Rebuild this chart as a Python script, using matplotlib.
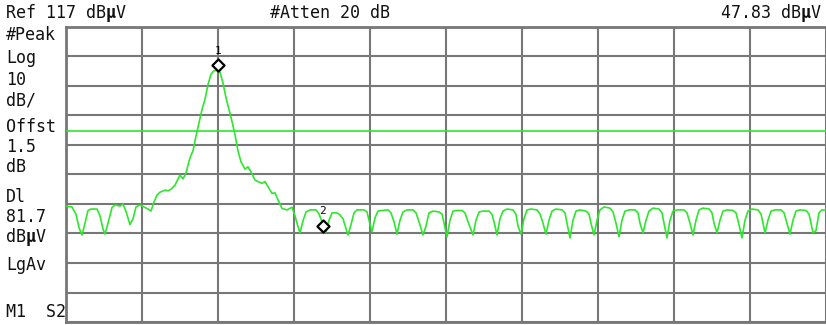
import matplotlib
matplotlib.use("Agg")
from matplotlib import pyplot as plt

# Настройки прибора (из шапки экрана)
ref_level = 117      # dBμV, верх сетки
db_per_div = 10
n_bins = 760         # точки трассы по оси X, сетка через 76
display_line = 81.7  # dBμV

# Трасса: (номер точки, уровень dBμV)
trace_bins = [
    0, 6, 10, 13, 16, 19, 22, 25, 31, 34, 37, 39, 42, 46, 49, 54, 57, 60, 64, 67,
    70, 74, 78, 82, 85, 88, 91, 94, 99, 102, 105, 109, 112, 114, 117, 120, 123, 125, 127, 130,
    133, 136, 139, 142, 145, 148, 151, 154, 157, 160, 163, 166, 169, 172, 175, 179, 182, 185, 189, 192,
    196, 199, 202, 206, 209, 212, 216, 221, 226, 229, 231, 234, 237, 240, 244, 250, 253, 256, 260, 263,
    266, 271, 274, 277, 282, 285, 288, 291, 298, 301, 303, 306, 309, 312, 316, 322, 325, 328, 331, 334,
    337, 341, 347, 350, 353, 357, 360, 363, 367, 373, 376, 378, 381, 384, 387, 390, 396, 399, 402, 407,
    410, 413, 417, 423, 426, 428, 431, 434, 437, 441, 447, 450, 452, 455, 458, 461, 465, 471, 474, 477,
    480, 483, 486, 490, 496, 499, 501, 504, 507, 510, 514, 520, 523, 525, 528, 531, 534, 538, 544, 547,
    550, 553, 556, 559, 563, 569, 572, 574, 577, 580, 583, 587, 593, 596, 598, 601, 604, 607, 611, 618,
    621, 624, 627, 630, 633, 637, 643, 646, 648, 651, 654, 657, 661, 667, 670, 673, 676, 679, 682, 686,
    692, 695, 697, 699, 702, 705, 709, 715, 718, 721, 724, 727, 730, 734, 740, 743, 745, 747, 750, 753,
    756, 760,
]
trace_db = [
    56.3, 56.0, 53.5, 49.0, 46.5, 50.5, 54.8, 55.3, 55.3, 53.0, 48.5, 46.8, 50.5, 55.8, 56.7, 56.3, 57.0, 54.5, 50.0, 52.0,
    56.0, 56.7, 56.0, 55.3, 54.6, 57.7, 60.0, 61.0, 61.7, 61.5, 62.0, 63.4, 65.5, 66.8, 65.5, 67.5, 71.5, 73.5, 75.0, 80.0,
    84.5, 89.0, 92.5, 97.5, 101.0, 102.2, 102.2, 101.7, 98.0, 93.0, 89.0, 85.0, 80.5, 75.0, 71.3, 68.8, 69.6, 67.9, 65.1, 64.6,
    64.0, 64.6, 62.9, 60.6, 60.8, 58.4, 55.5, 55.0, 55.9, 53.0, 50.5, 47.2, 51.3, 54.3, 55.0, 55.0, 53.6, 51.0, 47.5, 51.5,
    54.0, 54.0, 53.3, 52.0, 46.5, 50.0, 54.0, 55.0, 55.0, 54.3, 51.5, 47.6, 52.3, 54.6, 54.8, 55.0, 54.0, 51.0, 46.8, 51.5,
    54.3, 55.0, 55.0, 54.0, 51.0, 46.5, 49.5, 54.0, 54.6, 54.3, 53.6, 50.5, 45.9, 51.5, 54.6, 54.8, 54.8, 54.0, 51.0, 46.5,
    51.5, 54.3, 54.6, 54.6, 53.5, 51.0, 46.5, 52.0, 54.6, 55.3, 55.0, 53.5, 49.5, 46.8, 52.0, 55.0, 55.3, 55.0, 53.6, 50.5,
    46.8, 51.5, 54.6, 55.3, 55.0, 54.0, 50.5, 45.5, 51.5, 54.6, 55.0, 54.6, 53.6, 50.5, 46.5, 51.5, 55.0, 56.0, 55.6, 54.3,
    50.5, 45.9, 51.5, 54.6, 55.0, 55.0, 54.0, 50.5, 47.2, 51.5, 54.6, 55.6, 55.3, 54.0, 50.5, 45.5, 51.5, 54.6, 55.0, 55.0,
    54.0, 50.5, 46.5, 51.5, 55.0, 55.6, 55.3, 54.0, 50.5, 47.2, 51.5, 54.6, 55.0, 54.8, 54.0, 50.0, 45.5, 51.5, 54.6, 55.3,
    55.0, 53.6, 50.5, 47.2, 51.5, 54.6, 55.0, 55.0, 54.0, 50.5, 46.8, 51.5, 54.6, 55.0, 54.8, 53.6, 50.5, 47.2, 48.0, 54.0,
    55.0, 55.0,
]

# Маркеры
marker_names = ["1", "2"]
marker_bins = [152, 257]
marker_db = [104.0, 49.6]

# Тексты экрана
header_left = "Ref 117 dBμV"
header_mid = "#Atten 20 dB"
header_right = "47.83 dBμV"
side_labels = ["#Peak", "Log", "10", "dB/", "Offst", "1.5", "dB",
               "Dl", "81.7", "dBμV", "LgAv", "M1  S2"]
side_y = [35, 58, 80, 101, 127, 147, 167, 197, 217, 237, 265, 312]  # пиксели сверху

W, H = 826, 325
FS = 12
CHAR_PX = 0.6 * FS * 100 / 72  # ширина символа моноширинного шрифта в пикселях

fig = plt.figure(figsize=(W / 100, H / 100), dpi=100)
fig.patch.set_facecolor("white")
ax = fig.add_axes([66 / W, 3 / H, 760 / W, 295 / H])

grid_col = "#777777"
green = "#2ee62e"

ax.plot(trace_bins, trace_db, color=green, lw=1.2, zorder=3)
ax.axhline(display_line, color=green, lw=1.2, zorder=3)

ax.scatter(marker_bins, marker_db, marker="D", s=38, facecolors="white",
           edgecolors="black", linewidths=1.6, zorder=5)
for name, xb, yd in zip(marker_names, marker_bins, marker_db):
    ax.annotate(name, (xb, yd), xytext=(0, 7), textcoords="offset points",
                ha="center", va="bottom", fontsize=8, family="DejaVu Sans Mono")

ax.set_xlim(0, n_bins)
ax.set_ylim(ref_level - 10 * db_per_div, ref_level)
ax.set_xticks(range(0, n_bins + 1, 76))
ax.set_yticks(range(ref_level - 10 * db_per_div, ref_level + 1, db_per_div))
ax.grid(True, color=grid_col, lw=1.5)
ax.tick_params(length=0, labelbottom=False, labelleft=False)
for sp in ax.spines.values():
    sp.set_color(grid_col)
    sp.set_linewidth(2)


def screen_text(x_px, y_px, s, align="left"):
    """Текст экрана прибора, μ рисуется отдельным жирным куском"""
    if align == "center":
        x0 = x_px - len(s) * CHAR_PX / 2
    elif align == "right":
        x0 = x_px - len(s) * CHAR_PX
    else:
        x0 = x_px
    font = dict(family="DejaVu Sans Mono", fontsize=FS, color="#111111", va="center", ha="left")
    y = 1 - y_px / H
    i = s.find("μ")
    if i < 0:
        fig.text(x0 / W, y, s, **font)
        return
    fig.text(x0 / W, y, s[:i], **font)
    fig.text((x0 + i * CHAR_PX) / W, y, "μ", fontweight="bold", **font)
    if s[i + 1:]:
        fig.text((x0 + (i + 1) * CHAR_PX) / W, y, s[i + 1:], **font)


screen_text(6, 13, header_left)
screen_text(330, 13, header_mid, "center")
screen_text(821, 13, header_right, "right")
for lab, y in zip(side_labels, side_y):
    screen_text(6, y, lab)

fig.savefig("out.png", dpi=100, facecolor="white")
